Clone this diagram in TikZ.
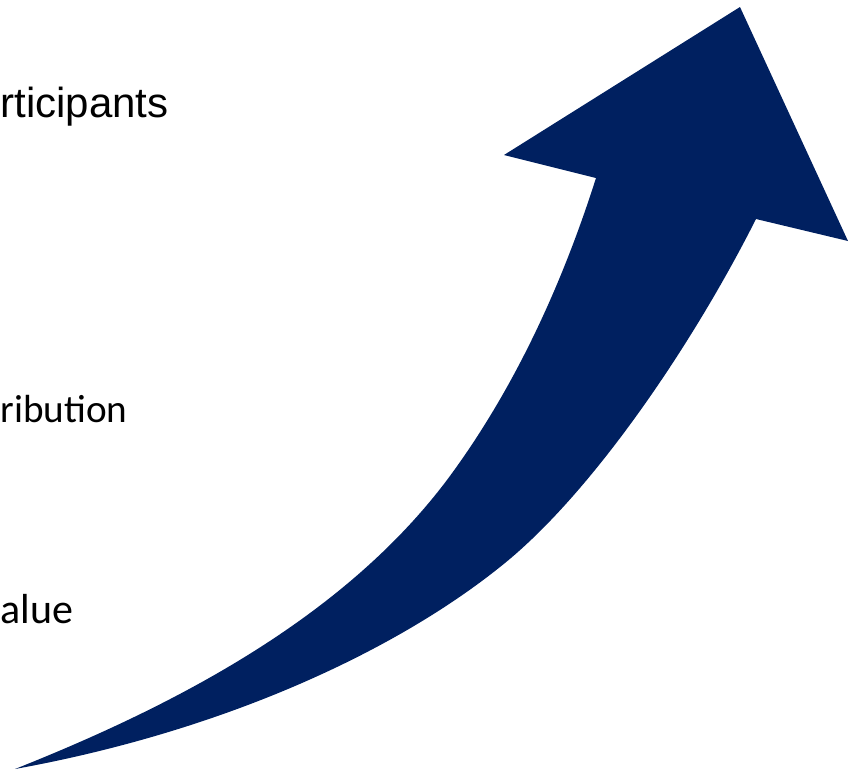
\documentclass[tikz,border=0pt]{standalone}
\usepackage{fontspec}
\setmainfont{Liberation Sans}
\newfontfamily\calfont{Carlito}
\definecolor{arrowblue}{RGB}{0,32,96}
\tikzset{
  lbl/.style={anchor=base west, inner sep=0pt, text=black},
}
\begin{document}
\begin{tikzpicture}[x=0.5pt, y=-0.5pt]
\useasboundingbox (0,0) rectangle (859,772);
\clip (0,0) rectangle (859,772);
\fill[arrowblue] (504,155) -- (740,7) -- (848,241) -- (756,219)
  .. controls (692,346) and (590,496) .. (500,567)
  .. controls (399,648) and (230,730) .. (15,769)
  .. controls (176,705) and (343,618) .. (447,480)
  .. controls (514,390) and (562,285) .. (596,178)
  -- cycle;
\node[lbl, font=\fontsize{21pt}{25pt}\selectfont] (t1) at (0,117) {rticipants};
\node[lbl, font=\calfont\fontsize{19.6pt}{23pt}\selectfont] (t2) at (0,422) {ribution};
\node[lbl, font=\calfont\fontsize{21pt}{25pt}\selectfont] (t3) at (0,623) {alue};
\end{tikzpicture}
\end{document}
